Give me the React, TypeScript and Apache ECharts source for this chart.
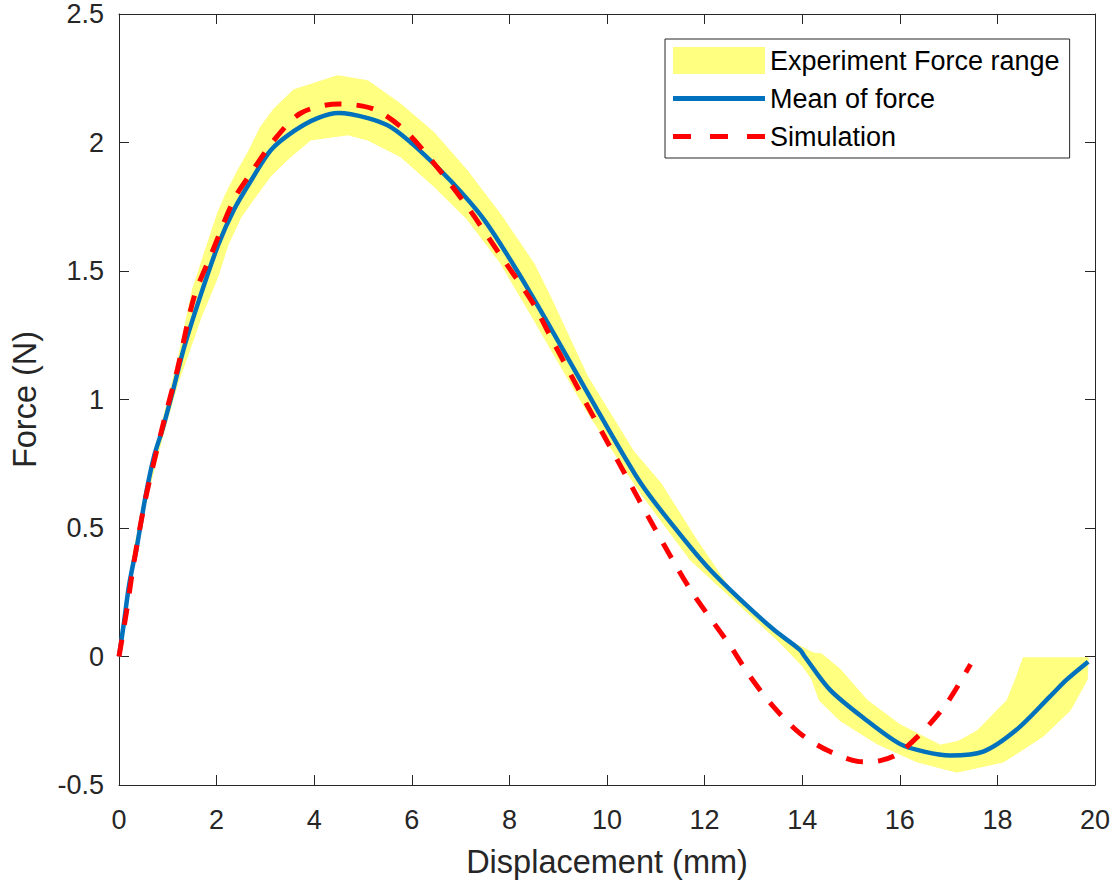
import React, { useEffect, useRef } from "react";
import * as echarts from "echarts";

const xTicks = [0, 2, 4, 6, 8, 10, 12, 14, 16, 18, 20];
const yTicks = [-0.5, 0, 0.5, 1, 1.5, 2, 2.5];

const meanX = [0, 0.1, 0.2, 0.3, 0.35, 0.55, 0.72, 0.9, 1.1, 1.33, 1.68, 2.03, 2.36, 2.7, 3.11, 3.59, 4.07, 4.5, 5.1, 5.57, 6.1, 6.8, 7.48, 8.16, 8.84, 9.8, 10.69, 11.37, 12.05, 12.74, 13.42, 13.96, 14.05, 14.57, 15.33, 16.0, 16.5, 17.03, 17.71, 18.39, 19.08, 19.42, 19.86];
const meanY = [0, 0.13, 0.27, 0.37, 0.41, 0.63, 0.78, 0.89, 1.03, 1.2, 1.41, 1.6, 1.74, 1.85, 1.97, 2.045, 2.095, 2.115, 2.095, 2.06, 1.98, 1.85, 1.7, 1.5, 1.28, 0.96, 0.675, 0.505, 0.35, 0.22, 0.104, 0.025, 0.0, -0.13, -0.25, -0.34, -0.37, -0.385, -0.37, -0.285, -0.155, -0.09, -0.02];

const simX = [0, 0.15, 0.3, 0.55, 0.9, 1.2, 1.54, 1.88, 2.36, 2.7, 3.18, 3.73, 4.5, 5.22, 5.84, 6.45, 7.14, 7.82, 8.5, 8.8, 9.53, 10.21, 10.96, 11.71, 12.53, 12.94, 13.41, 13.96, 14.57, 15.25, 15.6, 15.95, 16.48, 16.97, 17.45];
const simY = [0, 0.17, 0.36, 0.62, 0.9, 1.12, 1.4, 1.56, 1.78, 1.88, 2.01, 2.115, 2.15, 2.13, 2.05, 1.92, 1.75, 1.56, 1.37, 1.26, 1.0, 0.765, 0.505, 0.26, 0.04, -0.08, -0.195, -0.3, -0.37, -0.41, -0.405, -0.38, -0.29, -0.18, -0.03];

const upperX = [0, 0.3, 0.6, 0.9, 1.2, 1.51, 1.75, 2.03, 2.19, 2.43, 2.64, 2.9, 3.17, 3.58, 4.48, 5.1, 5.77, 6.45, 7.14, 7.82, 8.5, 8.84, 9.6, 10.54, 11.1, 11.85, 12.53, 12.94, 13.82, 14.23, 14.4, 14.78, 15.33, 16.0, 16.83, 17.2, 17.58, 18.2, 18.39, 18.53, 19.86];
const upperY = [0, 0.41, 0.69, 0.92, 1.15, 1.43, 1.57, 1.73, 1.8, 1.89, 1.96, 2.06, 2.13, 2.205, 2.26, 2.24, 2.15, 2.04, 1.89, 1.72, 1.53, 1.4, 1.09, 0.8, 0.675, 0.45, 0.26, 0.17, 0.053, 0.014, 0.01, -0.05, -0.17, -0.265, -0.345, -0.33, -0.29, -0.17, -0.08, -0.005, -0.005];

const lowerX = [0, 0.3, 0.6, 0.9, 1.2, 1.5, 1.68, 1.88, 2.03, 2.23, 2.5, 2.84, 3.11, 3.52, 3.93, 4.69, 5.09, 5.77, 6.45, 7.14, 7.82, 8.5, 9.6, 10.69, 11.71, 12.74, 13.55, 14.02, 14.2, 14.35, 14.78, 15.54, 16.35, 17.17, 18.13, 18.94, 19.49, 19.84, 19.86];
const lowerY = [0, 0.36, 0.64, 0.86, 1.06, 1.22, 1.32, 1.41, 1.48, 1.6, 1.71, 1.8, 1.87, 1.945, 2.01, 2.03, 2.01, 1.945, 1.83, 1.7, 1.53, 1.31, 0.95, 0.635, 0.375, 0.195, 0.053, -0.04, -0.09, -0.17, -0.25, -0.34, -0.41, -0.45, -0.41, -0.31, -0.21, -0.09, -0.005];

const seriesNames = ["Experiment Force range", "Mean of force", "Simulation"];

const zip = (xs: number[], ys: number[]) => xs.map((x, i) => [x, ys[i]]);

export default function App() {
  const ref = useRef<HTMLDivElement>(null);
  useEffect(() => {
    if (!ref.current) return;
    const chart = echarts.init(ref.current, null, { renderer: "svg" });
    const bandData = [...zip(upperX, upperY), ...zip(lowerX, lowerY).reverse()];
    const axisColor = "#262626";
    const font = "'Liberation Sans', Arial, Helvetica, sans-serif";
    const yellow = "#ffff80";
    const blue = "#0072bd";
    const red = "#ff0000";
    const commonX = {
      type: "value",
      min: xTicks[0],
      max: xTicks[xTicks.length - 1],
      interval: 2,
      splitLine: { show: false },
      axisLine: { show: true, onZero: false, lineStyle: { color: axisColor, width: 1 } },
      axisTick: { show: true, inside: true, length: 10, lineStyle: { color: axisColor } },
    };
    const commonY = {
      type: "value",
      min: yTicks[0],
      max: yTicks[yTicks.length - 1],
      interval: 0.5,
      splitLine: { show: false },
      axisLine: { show: true, onZero: false, lineStyle: { color: axisColor, width: 1 } },
      axisTick: { show: true, inside: true, length: 10, lineStyle: { color: axisColor } },
    };
    chart.setOption({
      animation: false,
      backgroundColor: "#ffffff",
      textStyle: { fontFamily: font },
      grid: { left: 118, right: 22, top: 14, bottom: 101, containLabel: false },
      legend: {
        orient: "vertical",
        left: 665,
        top: 39,
        padding: [8, 10, 8, 8],
        itemWidth: 92,
        itemHeight: 27,
        itemGap: 11,
        symbolKeepAspect: true,
        borderColor: "#262626",
        borderWidth: 1,
        borderRadius: 0,
        backgroundColor: "#ffffff",
        textStyle: { fontSize: 27, color: "#000000", fontFamily: font, padding: [0, 0, 0, 0] },
        data: [
          { name: seriesNames[0], icon: "rect", itemStyle: { color: yellow } },
          { name: seriesNames[1], icon: "path://M0,0h92v5h-92z", itemStyle: { color: blue } },
          {
            name: seriesNames[2],
            icon: "path://M0,0h18v5h-18z M37,0h18v5h-18z M74,0h18v5h-18z",
            itemStyle: { color: red },
          },
        ],
      },
      xAxis: [
        {
          ...commonX,
          position: "bottom",
          name: "Displacement (mm)",
          nameLocation: "middle",
          nameGap: 60,
          nameTextStyle: { fontSize: 32.5, color: axisColor, fontFamily: font },
          axisLabel: { fontSize: 27, color: axisColor, margin: 21, fontFamily: font },
        },
        { ...commonX, position: "top", axisLabel: { show: false } },
      ],
      yAxis: [
        {
          ...commonY,
          position: "left",
          name: "Force (N)",
          nameLocation: "middle",
          nameGap: 78,
          nameTextStyle: { fontSize: 32.5, color: axisColor, fontFamily: font },
          axisLabel: { fontSize: 27, color: axisColor, margin: 15, fontFamily: font },
        },
        { ...commonY, position: "right", axisLabel: { show: false } },
      ],
      series: [
        {
          name: seriesNames[0],
          type: "custom",
          xAxisIndex: 0,
          yAxisIndex: 0,
          data: bandData,
          itemStyle: { color: yellow },
          renderItem: (params: any, api: any) => {
            if (params.dataIndex !== 0) return null;
            const pts = bandData.map((p) => api.coord(p));
            return {
              type: "polygon",
              shape: { points: pts, smooth: 0 },
              style: { fill: yellow, stroke: yellow, lineWidth: 1 },
            };
          },
          z: 1,
        },
        {
          name: seriesNames[1],
          type: "line",
          data: zip(meanX, meanY),
          showSymbol: false,
          symbol: "none",
          smooth: 0.3,
          lineStyle: { color: blue, width: 4.5 },
          itemStyle: { color: blue },
          z: 2,
        },
        {
          name: seriesNames[2],
          type: "line",
          data: zip(simX, simY),
          showSymbol: false,
          symbol: "none",
          smooth: 0.3,
          lineStyle: { color: red, width: 5, type: [17, 15] },
          itemStyle: { color: red },
          z: 3,
        },
      ],
    });
    return () => chart.dispose();
  }, []);
  return <div ref={ref} style={{ width: 1117, height: 886, position: "absolute", left: 0, top: 0 }} />;
}
